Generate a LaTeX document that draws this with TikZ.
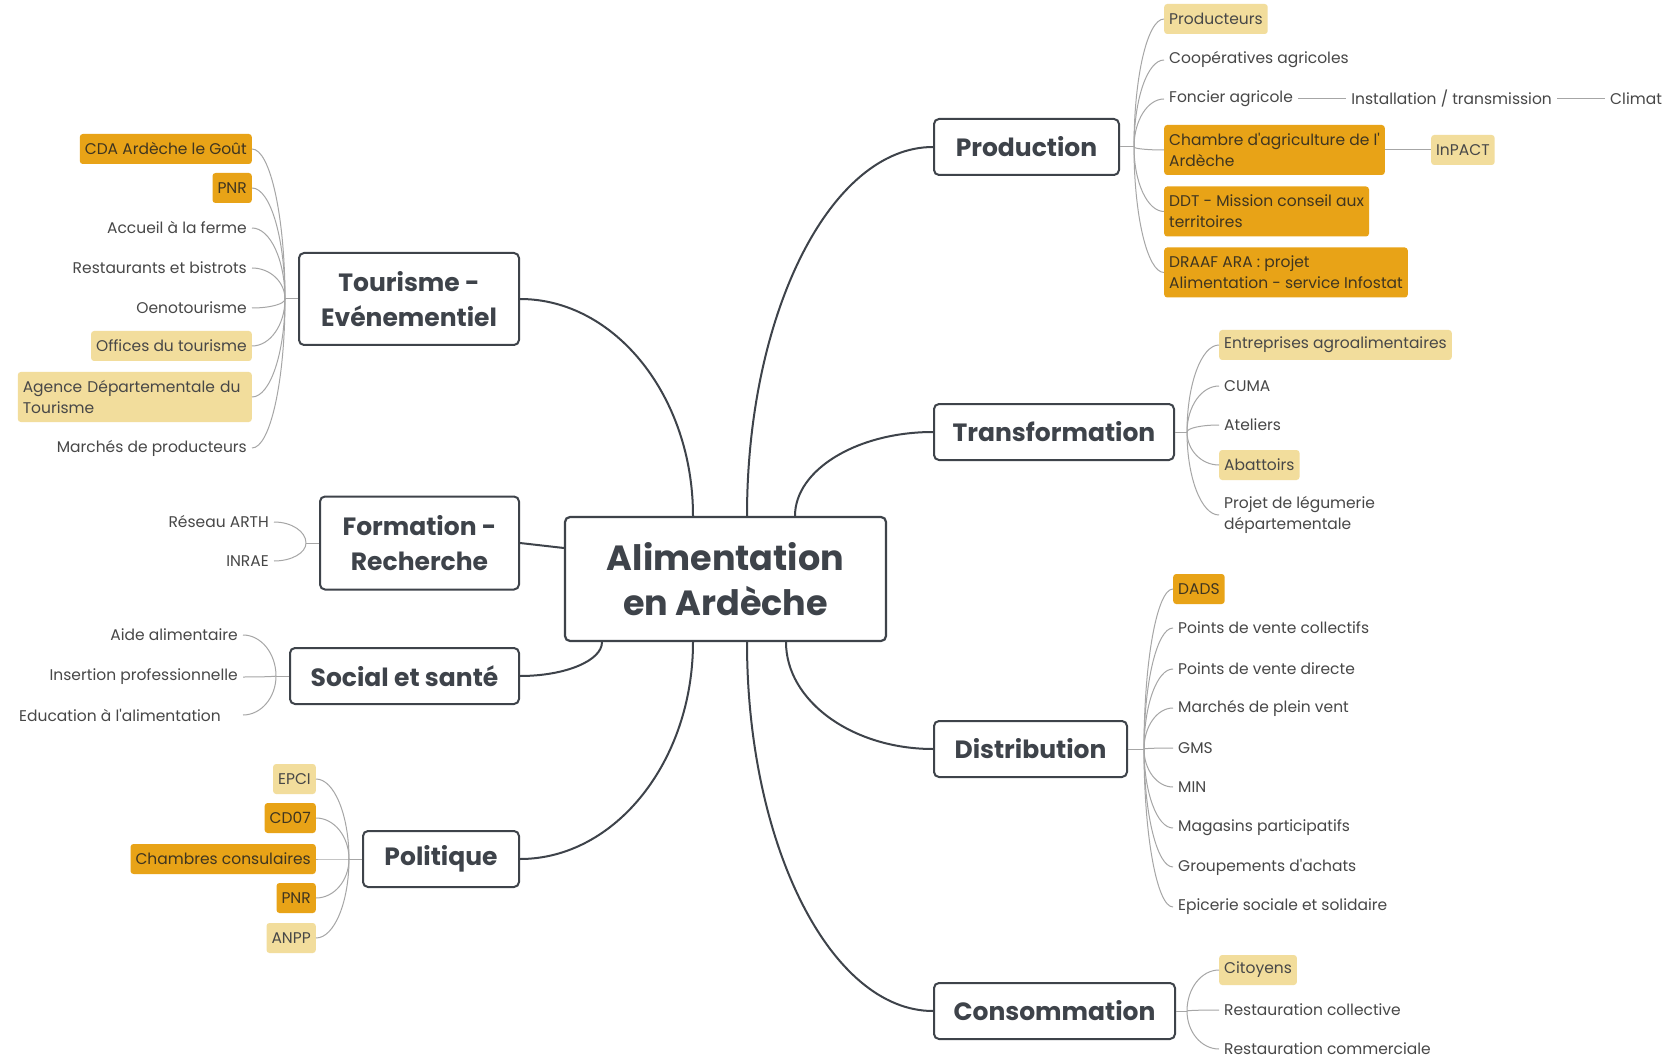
\documentclass[tikz,border=0pt]{standalone}
\usepackage{fontspec}
\setmainfont{Poppins}[Ligatures=TeXOff]
\usepackage{tikz}
\usetikzlibrary{positioning,calc}
\definecolor{mapink}{HTML}{3E434A}
\definecolor{maptwig}{HTML}{A6A6A6}
\definecolor{mapleaf}{HTML}{474747}
\definecolor{mapsand}{HTML}{F2DD9C}
\definecolor{mapamber}{HTML}{E8A317}
\definecolor{mapbrown}{HTML}{3F3520}

% quarter-ellipse connector: leaves #2 vertically, reaches #3 horizontally
\newcommand{\sweep}[3]{\draw[#1] (#2) .. controls ($(#2)!0.55!(#2 |- #3)$)
  and ($(#3)!0.55!(#2 |- #3)$) .. (#3);}

\begin{document}
\begin{tikzpicture}[x=1pt,y=-1pt,
  hubbox/.style={draw=mapink,line width=2.2pt,fill=white,rounded corners=5pt,
                 minimum width=321pt,minimum height=124pt,align=center,
                 text=mapink,font=\fontsize{35}{45}\selectfont\bfseries},
  topic/.style={draw=mapink,line width=2pt,fill=white,rounded corners=5pt,
                minimum height=56pt,align=center,text=mapink,
                font=\fontsize{25}{35}\selectfont\bfseries},
  leaf/.style={inner xsep=5pt,inner ysep=4pt,minimum height=30pt,
               text=mapleaf,font=\fontsize{15.5}{21}\selectfont},
  tall/.style={align=left,minimum height=50pt},
  sand/.style={leaf,fill=mapsand,rounded corners=3pt},
  amber/.style={leaf,fill=mapamber,rounded corners=3pt,text=mapbrown},
  limb/.style={draw=mapink,line width=2pt},
  twig/.style={draw=maptwig,line width=1pt}]
  \fill[white] (0,0) rectangle (1666,1059);
  \useasboundingbox (0,0) rectangle (1666,1059);

  % centre and main topics
  \node[hubbox] (hub) at (725.5,579) {Alimentation\\en Ardèche};
  \node[topic,anchor=west,minimum width=185pt] (prod) at (933,147) {Production};
  \node[topic,anchor=west,minimum width=240pt] (trans) at (933,432) {Transformation};
  \node[topic,anchor=west,minimum width=193pt] (dist) at (933,749) {Distribution};
  \node[topic,anchor=west,minimum width=241pt] (cons) at (933,1011) {Consommation};
  \node[topic,anchor=east,minimum width=220pt,minimum height=92pt] (tour) at (520,299)
       {Tourisme -\\Evénementiel};
  \node[topic,anchor=east,minimum width=199pt,minimum height=93pt] (form) at (520,543)
       {Formation -\\Recherche};
  \node[topic,anchor=east,minimum width=229pt] (soc) at (520,676) {Social et santé};
  \node[topic,anchor=east,minimum width=156pt] (pol) at (520,859) {Politique};

  \coordinate (hP) at ([xshift=21.5pt]hub.north);
  \coordinate (hT) at ([xshift=69.5pt]hub.north);
  \coordinate (hTo) at ([xshift=-32.5pt]hub.north);
  \coordinate (hD) at ([xshift=60.5pt]hub.south);
  \coordinate (hC) at ([xshift=21.5pt]hub.south);
  \coordinate (hPo) at ([xshift=-32.5pt]hub.south);
  \coordinate (hS) at ([xshift=-123.5pt]hub.south);
  \coordinate (hF) at ([yshift=31pt]hub.west);

  \sweep{limb}{hP}{prod.west}
  \sweep{limb}{hT}{trans.west}
  \sweep{limb}{hD}{dist.west}
  \sweep{limb}{hC}{cons.west}
  \sweep{limb}{hTo}{tour.east}
  \sweep{limb}{hS}{soc.east}
  \sweep{limb}{hPo}{pol.east}
  \draw[limb] (form.east) -- (hF);

  % Production
  \node[sand,anchor=west] (prodA) at (1164,19) {Producteurs};
  \node[leaf,anchor=west] (prodB) at (1164,60) {Coopératives agricoles};
  \node[leaf,anchor=west] (prodC) at (1164,99) {Foncier agricole};
  \node[amber,tall,anchor=west] (prodD) at (1164,150)
       {Chambre d'agriculture de l'\\Ardèche};
  \node[amber,tall,anchor=west] (prodE) at (1164,211.5)
       {DDT - Mission conseil aux\\territoires};
  \node[amber,tall,anchor=west] (prodF) at (1164,272.5)
       {DRAAF ARA : projet\\Alimentation - service Infostat};
  \node[leaf,right=48pt of prodC] (inst) {Installation / transmission};
  \node[leaf,right=48pt of inst] (clim) {Climat};
  \node[sand,right=46pt of prodD] (inpact) {InPACT};
  \coordinate (prodJ) at ([xshift=14pt]prod.east);
  \draw[twig] (prod.east) -- (prodJ);
  \foreach \l in {prodA,prodB,prodC,prodD,prodE,prodF}
    {\sweep{twig}{prodJ}{\l.west}}
  \draw[twig] (prodC) -- (inst);
  \draw[twig] (inst) -- (clim);
  \draw[twig] (prodD) -- (inpact);

  % Transformation
  \node[sand,anchor=west] (trA) at (1219,345) {Entreprises agroalimentaires};
  \node[leaf,anchor=west] (trB) at (1219,386) {CUMA};
  \node[leaf,anchor=west] (trC) at (1219,425) {Ateliers};
  \node[sand,anchor=west] (trD) at (1219,465) {Abattoirs};
  \node[leaf,anchor=west,align=left] (trE) at (1219,515)
       {Projet de légumerie\\départementale};
  \coordinate (transJ) at ([xshift=12pt]trans.east);
  \draw[twig] (trans.east) -- (transJ);
  \foreach \l in {trA,trB,trC,trD,trE}
    {\sweep{twig}{transJ}{\l.west}}

  % Distribution
  \node[amber,anchor=west] (diA) at (1173,589) {DADS};
  \node[leaf,anchor=west] (diB) at (1173,628) {Points de vente collectifs};
  \node[leaf,anchor=west] (diC) at (1173,669) {Points de vente directe};
  \node[leaf,anchor=west] (diD) at (1173,708) {Marchés de plein vent};
  \node[leaf,anchor=west] (diE) at (1173,748) {GMS};
  \node[leaf,anchor=west] (diF) at (1173,787) {MIN};
  \node[leaf,anchor=west] (diG) at (1173,828) {Magasins participatifs};
  \node[leaf,anchor=west] (diH) at (1173,867) {Groupements d'achats};
  \node[leaf,anchor=west] (diI) at (1173,907) {Epicerie sociale et solidaire};
  \coordinate (distJ) at ([xshift=16pt]dist.east);
  \draw[twig] (dist.east) -- (distJ);
  \foreach \l in {diA,diB,diC,diD,diE,diF,diG,diH,diI}
    {\sweep{twig}{distJ}{\l.west}}

  % Consommation
  \node[sand,anchor=west] (coA) at (1219,970) {Citoyens};
  \node[leaf,anchor=west] (coB) at (1219,1010) {Restauration collective};
  \node[leaf,anchor=west] (coC) at (1219,1049) {Restauration commerciale};
  \coordinate (consJ) at ([xshift=11pt]cons.east);
  \draw[twig] (cons.east) -- (consJ);
  \foreach \l in {coA,coB,coC}
    {\sweep{twig}{consJ}{\l.west}}

  % Tourisme - Evenementiel
  \node[amber,anchor=east] (toA) at (252,149) {CDA Ardèche le Goût};
  \node[amber,anchor=east] (toB) at (252,188) {PNR};
  \node[leaf,anchor=east] (toC) at (252,228) {Accueil à la ferme};
  \node[leaf,anchor=east] (toD) at (252,268) {Restaurants et bistrots};
  \node[leaf,anchor=east] (toE) at (252,308) {Oenotourisme};
  \node[sand,anchor=east] (toF) at (252,346) {Offices du tourisme};
  \node[sand,tall,anchor=east,text width=224pt] (toG) at (252,397)
       {Agence Départementale du\\Tourisme};
  \node[leaf,anchor=east] (toH) at (252,448) {Marchés de producteurs};
  \coordinate (tourJ) at ([xshift=-13pt]tour.west);
  \draw[twig] (tour.west) -- (tourJ);
  \foreach \l in {toA,toB,toC,toD,toE,toF,toG,toH}
    {\sweep{twig}{tourJ}{\l.east}}

  % Formation - Recherche
  \node[leaf,anchor=east] (foA) at (274,522) {Réseau ARTH};
  \node[leaf,anchor=east] (foB) at (274,561) {INRAE};
  \coordinate (formJ) at ([xshift=-13pt]form.west);
  \draw[twig] (form.west) -- (formJ);
  \foreach \l in {foA,foB}
    {\sweep{twig}{formJ}{\l.east}}

  % Social et sante
  \node[leaf,anchor=east] (soA) at (243,635) {Aide alimentaire};
  \node[leaf,anchor=east] (soB) at (243,677) {Insertion professionnelle};
  \node[leaf,anchor=east] (soC) at (226,715) {Education à l'alimentation};
  \coordinate (soCend) at ([xshift=17pt]soC.east);
  \coordinate (socJ) at ([xshift=-13pt]soc.west);
  \draw[twig] (soc.west) -- (socJ);
  \sweep{twig}{socJ}{soA.east}
  \sweep{twig}{socJ}{soB.east}
  \sweep{twig}{socJ}{soCend}

  % Politique
  \node[sand,anchor=east] (poA) at (316,779) {EPCI};
  \node[amber,anchor=east] (poB) at (316,818) {CD07};
  \node[amber,anchor=east] (poC) at (316,859) {Chambres consulaires};
  \node[amber,anchor=east] (poD) at (316,898) {PNR};
  \node[sand,anchor=east] (poE) at (316,938) {ANPP};
  \coordinate (polJ) at ([xshift=-13pt]pol.west);
  \draw[twig] (pol.west) -- (polJ);
  \foreach \l in {poA,poB,poC,poD,poE}
    {\sweep{twig}{polJ}{\l.east}}
\end{tikzpicture}
\end{document}
